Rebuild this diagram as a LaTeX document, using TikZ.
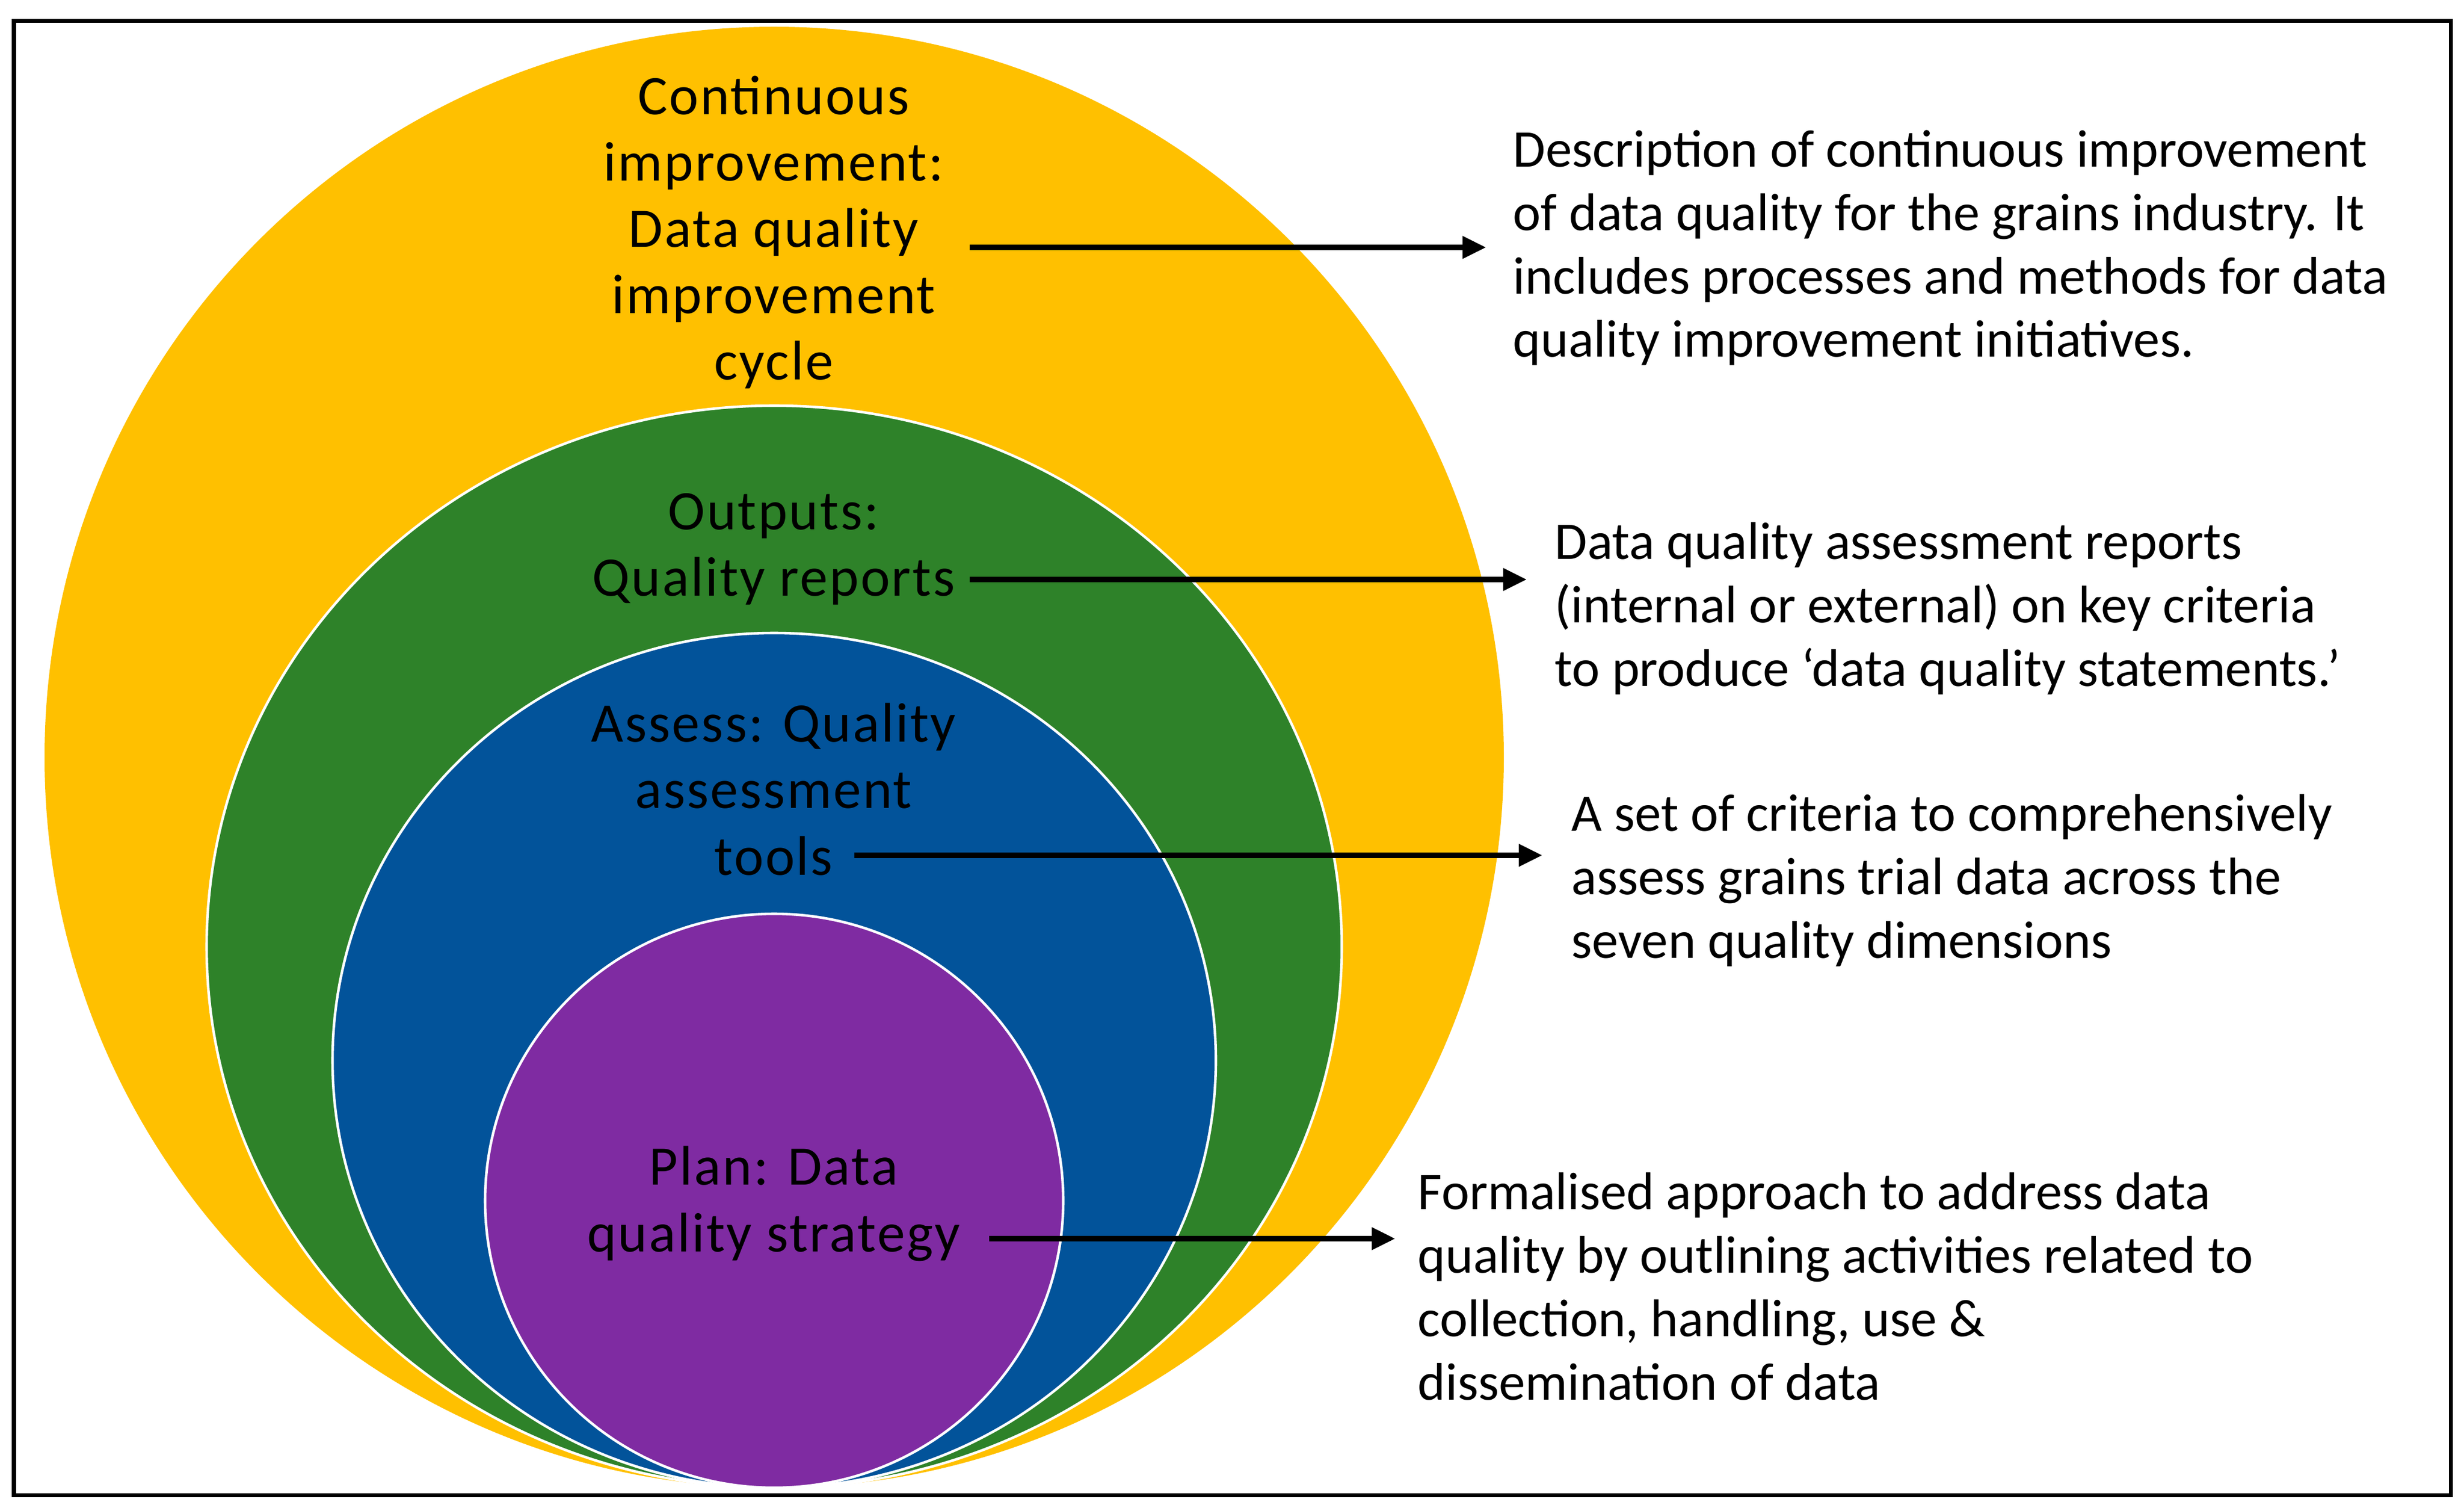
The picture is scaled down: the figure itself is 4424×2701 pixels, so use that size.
\documentclass[tikz,border=0pt]{standalone}
\usepackage{fontspec}
\setmainfont{Carlito}
\newfontfamily\lblfont[LetterSpace=3]{Carlito}
\usetikzlibrary{arrows.meta}
\definecolor{cyellow}{HTML}{FFC000}
\definecolor{cgreen}{HTML}{2E8229}
\definecolor{cblue}{HTML}{02539A}
\definecolor{cpurple}{HTML}{7F2BA2}
\begin{document}
\begin{tikzpicture}[x=0.01cm,y=-0.01cm,
  ring/.style={draw=white,line width=1.3pt},
  lbl/.style={font=\lblfont\fontsize{28.5pt}{33.9pt}\selectfont,align=center,inner sep=0pt,anchor=base},
  desc/.style={font=\fontsize{27pt}{32.4pt}\selectfont,align=left,inner sep=0pt,anchor=base west},
  conn/.style={line width=2.6pt,-{Triangle[length=12pt,width=11pt]}}]
\useasboundingbox (0,0) rectangle (4424,2701);
\draw[line width=2pt] (25,37.5) rectangle (4400,2683);
% nested shapes
\fill[cyellow] (1390,1359) ellipse [x radius=1310,y radius=1311];
\path[fill=cgreen,ring] (1390,1699) ellipse [x radius=1019,y radius=971];
\path[fill=cblue,ring] (1390,1903) ellipse [x radius=793,y radius=767];
\path[fill=cpurple,ring] (1390,2155) ellipse [x radius=519,y radius=515];
% labels (anchored at the baseline of their last line)
\node[lbl] (ly) at (1389,682) {Continuous\\improvement:\\Data quality\\improvement\\cycle};
\node[lbl] (lg) at (1389,1070) {Outputs:\\Quality reports};
\node[lbl] (lb) at (1389,1570) {Assess: Quality\\assessment\\tools};
\node[lbl] (lp) at (1389,2246) {Plan: Data\\quality strategy};
% descriptions
\node[desc] (d1) at (2716,641) {Description of continuous improvement\\of data quality for the grains industry. It\\includes processes and methods for data\\quality improvement initiatives.};
\node[desc] (d2) at (2791,1231) {Data quality assessment reports\\(internal or external) on key criteria\\to produce ‘data quality statements.’};
\node[desc] (d3) at (2821,1719) {A set of criteria to comprehensively\\assess grains trial data across the\\seven quality dimensions};
\node[desc] (d4) at (2545,2512) {Formalised approach to address data\\quality by outlining activities related to\\collection, handling, use \&\\dissemination of data};
% connectors
\coordinate (a1s) at (1741,444); \coordinate (a1e) at (2668,444);
\coordinate (a2s) at (1741,1040); \coordinate (a2e) at (2741,1040);
\coordinate (a3s) at (1534,1535); \coordinate (a3e) at (2769,1535);
\coordinate (a4s) at (1776,2223); \coordinate (a4e) at (2505,2223);
\draw[conn] (a1s) -- (a1e);
\draw[conn] (a2s) -- (a2e);
\draw[conn] (a3s) -- (a3e);
\draw[conn] (a4s) -- (a4e);
\end{tikzpicture}
\end{document}
